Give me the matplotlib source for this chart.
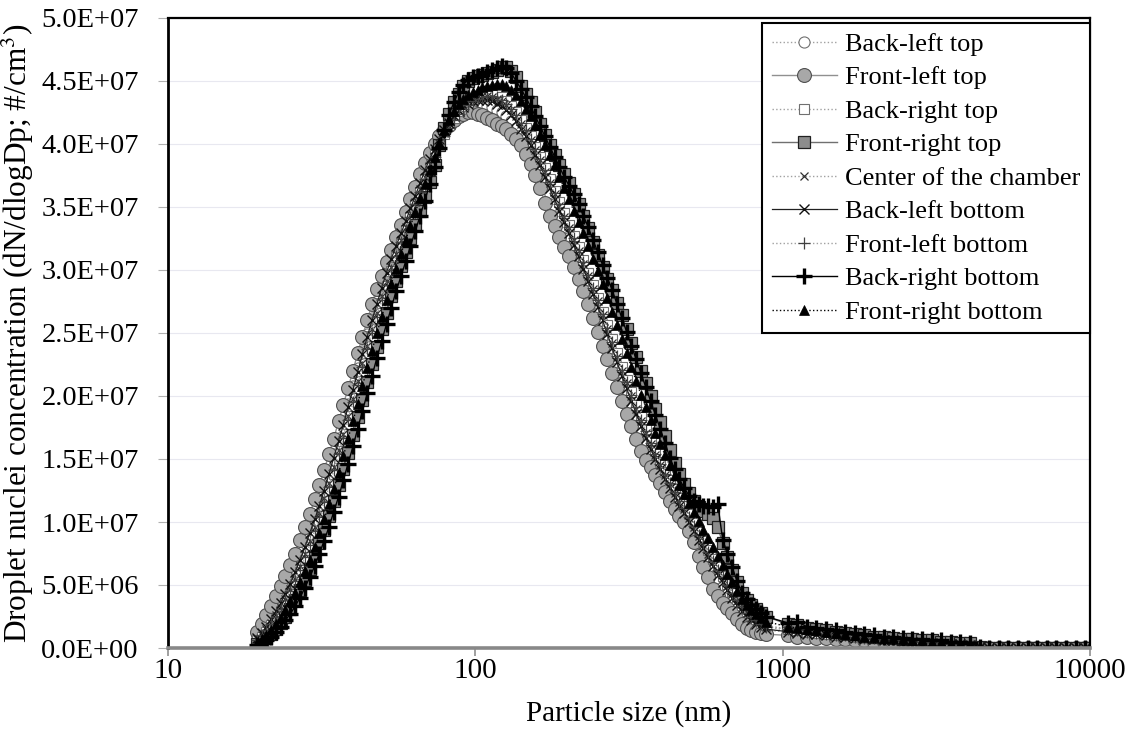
import numpy as np
import matplotlib.pyplot as plt
from matplotlib.ticker import FixedLocator, FuncFormatter, NullLocator

plt.rcParams['font.family'] = ['Liberation Serif', 'DejaVu Serif']
plt.rcParams['mathtext.fontset'] = 'stix'

# SMPS channel midpoints (nm) and APS channel midpoints (nm)
smps_d = [19.5, 20.2, 20.9, 21.7, 22.5, 23.3, 24.1, 25.0, 25.9, 26.9,
          27.9, 28.9, 30.0, 31.1, 32.2, 33.4, 34.6, 35.9, 37.2, 38.5,
          40.0, 41.4, 42.9, 44.5, 46.1, 47.8, 49.6, 51.4, 53.3, 55.2,
          57.3, 59.4, 61.5, 63.8, 66.1, 68.5, 71.0, 73.7, 76.4, 79.1,
          82.0, 85.1, 88.2, 91.4, 94.7, 98.2, 101.8, 105.5, 109.4, 113.4,
          117.6, 121.9, 126.3, 131.0, 135.8, 140.7, 145.9, 151.2, 156.8, 162.5,
          168.5, 174.7, 181.1, 187.7, 194.6, 201.7, 209.1, 216.7, 224.7, 232.9,
          241.4, 250.3, 259.5, 269.0, 278.8, 289.0, 299.6, 310.6, 322.0, 333.8,
          346.0, 358.7, 371.8, 385.4, 399.5, 414.2, 429.4, 445.1, 461.4, 478.3,
          495.8, 514.0, 532.8, 552.3, 572.5, 593.5, 615.3, 637.8, 661.2, 685.4,
          710.5, 736.5, 763.5, 791.5, 820.5, 850.5, 881.7]
aps_d = [1037, 1114, 1197, 1286, 1382, 1486, 1596, 1715, 1843, 1981,
         2129, 2288, 2458, 2642, 2839, 3051, 3278, 3523, 3786, 4068,
         4371, 4698, 5048, 5425, 5829, 6264, 6732, 7234, 7774, 8354,
         8977, 9647]

# concentrations in 1E6 #/cm3 (SMPS part, then APS part)
back_left_top = [
    0.9, 1.4, 1.9, 2.5, 3.1, 3.8, 4.6, 5.4, 6.3, 7.3,
    8.3, 9.4, 10.5, 11.6, 12.8, 14.1, 15.4, 16.7, 18.0, 19.4,
    20.8, 22.2, 23.6, 24.9, 26.2, 27.5, 28.7, 29.9, 31.0, 32.0,
    33.0, 34.0, 35.0, 36.0, 37.0, 38.0, 38.9, 39.7, 40.4, 41.0,
    41.5, 41.9, 42.3, 42.6, 42.8, 43.0, 43.1, 43.1, 43.0, 42.9,
    42.7, 42.5, 42.2, 41.8, 41.3, 40.7, 40.1, 39.4, 38.6, 37.8,
    36.9, 36.0, 35.1, 34.2, 33.3, 32.4, 31.5, 30.6, 29.6, 28.6,
    27.6, 26.6, 25.5, 24.4, 23.3, 22.2, 21.1, 20.1, 19.1, 18.1,
    17.1, 16.2, 15.4, 14.6, 13.8, 13.0, 12.3, 11.6, 11.0, 10.4,
    9.7, 9.0, 8.3, 7.6, 6.9, 6.2, 5.5, 4.9, 4.3, 3.8,
    3.2, 2.7, 2.3, 2.0, 1.8, 1.6, 1.4,
    1.3, 1.2, 1.1, 1.0, 1.0, 0.9, 0.8, 0.8, 0.7, 0.7,
    0.6, 0.6, 0.5, 0.5, 0.3, 0.3, 0.3, 0.3, 0.2, 0.2,
    0.0, 0.0, 0.0, 0.0, 0.0, 0.0, 0.0, 0.0, 0.0, 0.0, 0.0, 0.0]
front_left_top = [
    1.3, 1.9, 2.6, 3.3, 4.1, 4.9, 5.7, 6.6, 7.5, 8.6,
    9.6, 10.6, 11.8, 12.9, 14.1, 15.4, 16.6, 18.0, 19.3, 20.6,
    22.0, 23.4, 24.7, 26.0, 27.3, 28.5, 29.5, 30.6, 31.6, 32.6,
    33.6, 34.6, 35.6, 36.6, 37.6, 38.5, 39.3, 40.0, 40.6, 41.1,
    41.5, 41.9, 42.2, 42.4, 42.5, 42.5, 42.4, 42.3, 42.1, 41.9,
    41.6, 41.4, 41.2, 40.8, 40.4, 39.9, 39.2, 38.4, 37.5, 36.5,
    35.3, 34.3, 33.5, 32.6, 31.8, 31.1, 30.2, 29.3, 28.3, 27.3,
    26.2, 25.1, 24.0, 22.9, 21.8, 20.7, 19.6, 18.6, 17.6, 16.6,
    15.6, 14.9, 14.4, 13.7, 13.1, 12.4, 11.7, 11.0, 10.5, 10.0,
    9.3, 8.4, 7.3, 6.4, 5.6, 4.7, 4.1, 3.6, 3.2, 2.8,
    2.3, 1.9, 1.6, 1.4, 1.3, 1.2, 1.1,
    1.0, 0.9, 0.9, 0.8, 0.8, 0.7, 0.7, 0.6, 0.6, 0.5,
    0.5, 0.4, 0.4, 0.3, 0.1, 0.1, 0.1, 0.1, 0.1, 0.1,
    0.0, 0.0, 0.0, 0.0, 0.0, 0.0, 0.0, 0.0, 0.0, 0.0, 0.0, 0.0]
back_right_top = [
    0.6, 0.9, 1.3, 1.8, 2.3, 2.9, 3.6, 4.3, 5.1, 6.0,
    7.0, 8.0, 9.0, 10.1, 11.3, 12.5, 13.8, 15.1, 16.4, 17.8,
    19.2, 20.6, 22.0, 23.4, 24.8, 26.1, 27.4, 28.7, 29.9, 31.0,
    32.1, 33.2, 34.2, 35.2, 36.2, 37.2, 38.2, 39.1, 40.0, 40.8,
    41.5, 42.1, 42.6, 43.0, 43.3, 43.6, 43.8, 43.9, 44.0, 44.0,
    43.9, 43.7, 43.4, 43.0, 42.5, 41.9, 41.3, 40.6, 39.8, 39.0,
    38.1, 37.2, 36.3, 35.4, 34.5, 33.6, 32.7, 31.8, 30.8, 29.8,
    28.8, 27.8, 26.7, 25.6, 24.5, 23.4, 22.3, 21.3, 20.3, 19.3,
    18.3, 17.4, 16.5, 15.6, 14.8, 14.0, 13.3, 12.6, 11.9, 11.3,
    10.6, 9.9, 9.2, 8.5, 7.8, 7.1, 6.4, 5.7, 5.1, 4.5,
    3.9, 3.4, 2.9, 2.6, 2.3, 2.0, 1.8,
    1.5, 1.4, 1.3, 1.2, 1.1, 1.0, 1.0, 0.9, 0.8, 0.8,
    0.7, 0.7, 0.6, 0.6, 0.5, 0.4, 0.4, 0.4, 0.3, 0.3,
    0.1, 0.0, 0.0, 0.0, 0.0, 0.0, 0.0, 0.0, 0.0, 0.0, 0.0, 0.0]
front_right_top = [
    0.3, 0.5, 0.8, 1.1, 1.5, 2.0, 2.5, 3.1, 3.8, 4.6,
    5.4, 6.3, 7.3, 8.3, 9.4, 10.5, 11.7, 12.9, 14.2, 15.5,
    16.9, 18.3, 19.7, 21.1, 22.5, 23.9, 25.3, 26.6, 27.9, 29.1,
    30.3, 31.4, 32.5, 33.6, 34.7, 35.8, 37.0, 38.3, 39.9, 41.3,
    42.4, 43.3, 44.0, 44.6, 45.0, 45.2, 45.4, 45.5, 45.6, 45.7,
    45.9, 46.1, 46.1, 45.8, 45.3, 44.6, 44.0, 43.3, 42.5, 41.6,
    40.7, 39.9, 39.1, 38.3, 37.6, 36.9, 36.0, 35.2, 34.3, 33.3,
    32.2, 31.2, 30.2, 29.3, 28.4, 27.4, 26.4, 25.3, 24.2, 23.1,
    22.0, 21.0, 20.0, 19.0, 17.9, 16.8, 15.7, 14.7, 13.8, 13.0,
    12.3, 11.7, 11.2, 10.9, 10.6, 10.3, 9.6, 8.3, 7.2, 6.2,
    5.2, 4.4, 3.8, 3.4, 3.1, 2.8, 2.5,
    1.9, 1.8, 1.6, 1.5, 1.4, 1.3, 1.2, 1.1, 1.0, 0.9,
    0.9, 0.8, 0.7, 0.7, 0.6, 0.6, 0.5, 0.5, 0.4, 0.4,
    0.1, 0.0, 0.0, 0.0, 0.0, 0.0, 0.0, 0.0, 0.0, 0.0, 0.0, 0.0]
center_chamber = [
    0.7, 1.0, 1.5, 2.0, 2.6, 3.2, 3.9, 4.7, 5.5, 6.5,
    7.5, 8.5, 9.6, 10.7, 11.9, 13.1, 14.4, 15.7, 17.0, 18.4,
    19.8, 21.2, 22.6, 24.0, 25.3, 26.6, 27.9, 29.1, 30.2, 31.3,
    32.4, 33.4, 34.4, 35.4, 36.4, 37.4, 38.4, 39.3, 40.1, 40.9,
    41.6, 42.2, 42.7, 43.1, 43.4, 43.6, 43.7, 43.8, 43.8, 43.7,
    43.6, 43.4, 43.1, 42.7, 42.2, 41.6, 41.0, 40.3, 39.5, 38.7,
    37.8, 36.9, 36.0, 35.1, 34.2, 33.3, 32.4, 31.5, 30.5, 29.5,
    28.5, 27.5, 26.4, 25.3, 24.2, 23.1, 22.0, 21.0, 20.0, 19.0,
    18.0, 17.1, 16.2, 15.3, 14.5, 13.7, 13.0, 12.3, 11.6, 11.0,
    10.3, 9.6, 8.9, 8.2, 7.5, 6.8, 6.1, 5.5, 4.9, 4.3,
    3.7, 3.2, 2.8, 2.4, 2.1, 1.9, 1.7,
    1.4, 1.3, 1.2, 1.1, 1.0, 1.0, 0.9, 0.8, 0.8, 0.7,
    0.7, 0.6, 0.6, 0.5, 0.4, 0.4, 0.4, 0.3, 0.3, 0.3,
    0.1, 0.0, 0.0, 0.0, 0.0, 0.0, 0.0, 0.0, 0.0, 0.0, 0.0, 0.0]
back_left_bottom = [
    0.8, 1.2, 1.7, 2.3, 2.9, 3.6, 4.3, 5.1, 6.0, 7.0,
    8.0, 9.1, 10.2, 11.3, 12.5, 13.8, 15.1, 16.4, 17.7, 19.1,
    20.5, 21.9, 23.3, 24.7, 26.0, 27.3, 28.6, 29.8, 30.9, 31.9,
    32.9, 33.9, 34.9, 35.9, 36.9, 37.9, 38.8, 39.6, 40.4, 41.1,
    41.7, 42.2, 42.6, 42.9, 43.2, 43.4, 43.5, 43.5, 43.5, 43.4,
    43.2, 43.0, 42.7, 42.3, 41.8, 41.2, 40.6, 39.9, 39.1, 38.3,
    37.4, 36.5, 35.6, 34.7, 33.8, 32.9, 32.0, 31.1, 30.1, 29.1,
    28.1, 27.1, 26.0, 24.9, 23.8, 22.7, 21.6, 20.6, 19.6, 18.6,
    17.6, 16.7, 15.8, 15.0, 14.2, 13.4, 12.7, 12.0, 11.3, 10.7,
    10.0, 9.3, 8.6, 7.9, 7.2, 6.5, 5.8, 5.2, 4.6, 4.0,
    3.4, 2.9, 2.5, 2.2, 1.9, 1.7, 1.5,
    1.3, 1.2, 1.1, 1.1, 1.0, 0.9, 0.9, 0.8, 0.7, 0.7,
    0.6, 0.6, 0.5, 0.5, 0.4, 0.4, 0.3, 0.3, 0.3, 0.2,
    0.1, 0.0, 0.0, 0.0, 0.0, 0.0, 0.0, 0.0, 0.0, 0.0, 0.0, 0.0]
front_left_bottom = [
    0.6, 1.0, 1.4, 1.9, 2.5, 3.1, 3.8, 4.5, 5.3, 6.2,
    7.2, 8.2, 9.3, 10.4, 11.6, 12.8, 14.1, 15.4, 16.7, 18.1,
    19.5, 20.9, 22.3, 23.7, 25.0, 26.3, 27.6, 28.8, 30.0, 31.1,
    32.2, 33.2, 34.2, 35.2, 36.2, 37.2, 38.1, 39.0, 39.8, 40.6,
    41.3, 41.9, 42.4, 42.8, 43.1, 43.4, 43.6, 43.7, 43.8, 43.8,
    43.7, 43.5, 43.2, 42.8, 42.3, 41.7, 41.1, 40.4, 39.6, 38.8,
    37.9, 37.0, 36.1, 35.2, 34.3, 33.4, 32.5, 31.6, 30.6, 29.6,
    28.6, 27.6, 26.5, 25.4, 24.3, 23.2, 22.1, 21.1, 20.1, 19.1,
    18.1, 17.2, 16.3, 15.4, 14.6, 13.8, 13.1, 12.4, 11.7, 11.1,
    10.4, 9.7, 9.0, 8.3, 7.6, 6.9, 6.2, 5.6, 5.0, 4.4,
    3.8, 3.3, 2.8, 2.5, 2.2, 1.9, 1.7,
    1.5, 1.4, 1.3, 1.2, 1.1, 1.0, 1.0, 0.9, 0.8, 0.8,
    0.7, 0.7, 0.6, 0.6, 0.5, 0.5, 0.4, 0.4, 0.3, 0.3,
    0.1, 0.0, 0.0, 0.0, 0.0, 0.0, 0.0, 0.0, 0.0, 0.0, 0.0, 0.0]
back_right_bottom = [
    0.2, 0.4, 0.6, 0.9, 1.3, 1.7, 2.2, 2.7, 3.3, 4.0,
    4.8, 5.6, 6.5, 7.5, 8.5, 9.6, 10.8, 12.0, 13.3, 14.6,
    16.0, 17.4, 18.8, 20.2, 21.6, 23.0, 24.4, 25.7, 27.0, 28.3,
    29.5, 30.7, 31.9, 33.1, 34.3, 35.5, 36.8, 38.2, 39.7, 41.1,
    42.3, 43.3, 44.1, 44.7, 45.1, 45.3, 45.4, 45.5, 45.7, 45.9,
    46.0, 46.2, 46.0, 45.6, 45.0, 44.4, 43.7, 43.0, 42.2, 41.4,
    40.6, 39.8, 39.0, 38.2, 37.4, 36.7, 36.0, 35.2, 34.3, 33.4,
    32.4, 31.4, 30.4, 29.4, 28.4, 27.3, 26.2, 25.1, 24.0, 22.9,
    21.8, 20.7, 19.6, 18.5, 17.4, 16.3, 15.1, 14.2, 13.4, 12.7,
    12.1, 11.7, 11.4, 11.3, 11.3, 11.2, 11.4, 8.6, 7.5, 6.4,
    5.3, 4.4, 3.9, 3.4, 3.1, 2.8, 2.5,
    2.0, 2.1, 1.7, 1.6, 1.5, 1.4, 1.3, 1.2, 1.1, 1.0,
    0.9, 0.9, 0.8, 0.7, 0.7, 0.6, 0.6, 0.5, 0.5, 0.4,
    0.1, 0.0, 0.0, 0.0, 0.0, 0.0, 0.0, 0.0, 0.0, 0.0, 0.0, 0.0]
front_right_bottom = [
    0.4, 0.7, 1.0, 1.4, 1.9, 2.4, 3.0, 3.7, 4.4, 5.2,
    6.1, 7.0, 8.0, 9.1, 10.2, 11.4, 12.6, 13.9, 15.2, 16.6,
    18.0, 19.4, 20.8, 22.2, 23.6, 25.0, 26.3, 27.6, 28.9, 30.1,
    31.3, 32.4, 33.5, 34.6, 35.7, 36.8, 37.9, 39.0, 40.1, 41.1,
    41.9, 42.6, 43.2, 43.6, 43.9, 44.1, 44.3, 44.5, 44.6, 44.7,
    44.8, 44.8, 44.6, 44.3, 43.9, 43.4, 42.8, 42.2, 41.5, 40.7,
    39.9, 39.1, 38.3, 37.4, 36.5, 35.6, 34.7, 33.8, 32.9, 31.9,
    30.9, 29.9, 28.9, 27.8, 26.7, 25.6, 24.5, 23.4, 22.3, 21.2,
    20.1, 19.1, 18.1, 17.1, 16.2, 15.3, 14.5, 13.7, 12.9, 12.2,
    11.5, 10.8, 10.1, 9.4, 8.7, 8.0, 7.3, 6.6, 5.9, 5.2,
    4.5, 3.9, 3.4, 3.0, 2.7, 2.4, 2.1,
    1.7, 1.6, 1.5, 1.4, 1.3, 1.2, 1.1, 1.0, 0.9, 0.9,
    0.8, 0.8, 0.7, 0.6, 0.6, 0.5, 0.5, 0.4, 0.4, 0.4,
    0.1, 0.0, 0.0, 0.0, 0.0, 0.0, 0.0, 0.0, 0.0, 0.0, 0.0, 0.0]

labels = ["Back-left top", "Front-left top", "Back-right top", "Front-right top",
          "Center of the chamber", "Back-left bottom", "Front-left bottom",
          "Back-right bottom", "Front-right bottom"]
series = [back_left_top, front_left_top, back_right_top, front_right_top,
          center_chamber, back_left_bottom, front_left_bottom,
          back_right_bottom, front_right_bottom]

styles = [
    dict(ls=':', color='#a0a0a0', lw=1.0, marker='o', ms=8, mfc='white', mec='#707070', mew=0.8),
    dict(ls='-', color='#909090', lw=1.0, marker='o', ms=10, mfc='#a8a8a8', mec='#505050', mew=0.8),
    dict(ls=':', color='#a0a0a0', lw=1.0, marker='s', ms=7, mfc='white', mec='#707070', mew=0.8),
    dict(ls='-', color='#707070', lw=1.0, marker='s', ms=8, mfc='#8c8c8c', mec='#202020', mew=0.9),
    dict(ls=':', color='#a0a0a0', lw=1.0, marker='x', ms=6, mec='#303030', mew=0.9),
    dict(ls='-', color='#202020', lw=0.9, marker='x', ms=7, mec='#101010', mew=1.0),
    dict(ls=':', color='#a0a0a0', lw=1.0, marker='+', ms=9, mec='#404040', mew=0.9),
    dict(ls='-', color='#000000', lw=1.0, marker='+', ms=11, mec='#000000', mew=2.4),
    dict(ls=':', color='#000000', lw=1.0, marker='^', ms=7, mfc='#000000', mec='#000000', mew=0.5),
]

x = np.array(smps_d + aps_d)

fig = plt.figure(figsize=(11.31, 7.51), dpi=100)
ax = fig.add_axes([168 / 1131, 103 / 751, 922 / 1131, 630 / 751])

for vals, lab, st in zip(series, labels, styles):
    ax.plot(x, np.array(vals) * 1e6, label=lab, **st)

ax.set_xscale('log')
ax.set_xlim(10, 10000)
ax.set_ylim(0, 5e7)
ax.xaxis.set_major_locator(FixedLocator([10, 100, 1000, 10000]))
ax.xaxis.set_major_formatter(FuncFormatter(lambda v, p: f"{v:.0f}"))
ax.xaxis.set_minor_locator(NullLocator())
ax.yaxis.set_major_locator(FixedLocator(np.arange(0, 5.01e7, 5e6)))
ax.yaxis.set_major_formatter(FuncFormatter(lambda v, p: f"{v:.1E}"))

ax.grid(axis='y', color='#e8e8f0', lw=0.8)
ax.set_axisbelow(True)
ax.tick_params(axis='x', direction='out', length=6, width=1.2, color='#909090',
               pad=1, labelsize=21)
ax.tick_params(axis='y', direction='out', length=7, width=0.8, color='#b0b0b0',
               pad=14, labelsize=20.5)

for side in ['top', 'right', 'left']:
    ax.spines[side].set_color('black')
    ax.spines[side].set_linewidth(1.6)
ax.spines['left'].set_linewidth(2.0)
ax.spines['bottom'].set_color('#888888')
ax.spines['bottom'].set_linewidth(2.6)

ax.set_xlabel("Particle size (nm)", fontsize=21, labelpad=12)
ax.set_ylabel("Droplet nuclei concentration (dN/dlogDp; #/cm$^{3}$)", fontsize=22.5, labelpad=4)

leg = ax.legend(loc='upper right', bbox_to_anchor=(1.0, 0.992), borderaxespad=0,
                fontsize=19, frameon=True, fancybox=False, framealpha=1,
                edgecolor='black', handlelength=2.5, handletextpad=0.3,
                labelspacing=0.38, borderpad=0.35)
leg.get_frame().set_linewidth(1.5)

fig.savefig("out.png", dpi=100)
